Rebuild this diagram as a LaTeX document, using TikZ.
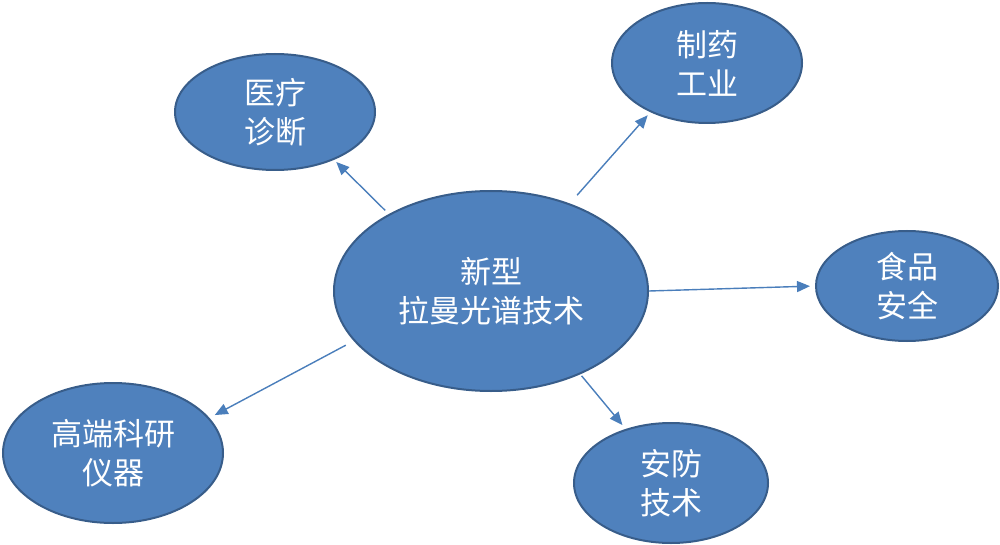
\documentclass[tikz,border=0pt]{standalone}
\usepackage{fontspec}
\newfontfamily\cjk{Noto Sans CJK SC}
\usetikzlibrary{shapes.geometric,arrows.meta}
\definecolor{bubblefill}{HTML}{4F81BD}
\definecolor{bubbleline}{HTML}{385D8A}
\definecolor{arrowcol}{HTML}{4A7EBB}
\begin{document}
\begin{tikzpicture}[x=1pt,y=-1pt,
  bubble/.style={ellipse, draw=bubbleline, line width=2pt, fill=bubblefill,
    inner sep=0pt, text=white, align=center,
    font=\cjk\fontsize{31}{39}\selectfont},
  link/.style={draw=arrowcol, line width=1.4pt,
    -{Triangle[length=13pt,width=11pt]}}]
\useasboundingbox (0,0) rectangle (1000,545);
\node[bubble, minimum width=314pt, minimum height=200pt] (c) at (491,291) {新型\\拉曼光谱技术};
\node[bubble, minimum width=200pt, minimum height=116pt] (med) at (275,112) {医疗\\诊断};
\node[bubble, minimum width=190pt, minimum height=120pt] (phar) at (707,63) {制药\\工业};
\node[bubble, minimum width=182pt, minimum height=110pt] (food) at (907,286) {食品\\安全};
\node[bubble, minimum width=194pt, minimum height=120pt] (sec) at (671,483) {安防\\技术};
\node[bubble, minimum width=220pt, minimum height=140pt] (inst) at (113,453) {高端科研\\仪器};
\draw[link, shorten <=5pt, shorten >=3pt] (c.143) -- (med.321);
\draw[link, shorten <=11pt, shorten >=4pt] (c.48) -- (phar.221);
\draw[link, shorten <=0pt, shorten >=5pt] (c.0) -- (food.180);
\draw[link, shorten <=2pt, shorten >=5pt] (c.317) -- (sec.130);
\draw[link, shorten <=9pt, shorten >=6pt] (c.200) -- (inst.20);
\end{tikzpicture}
\end{document}
